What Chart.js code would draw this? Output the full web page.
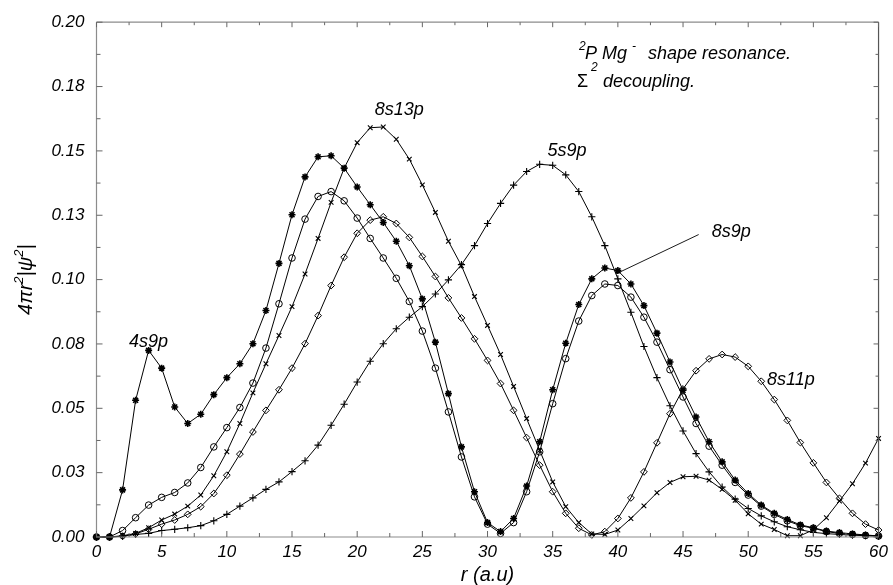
<!DOCTYPE html>
<html><head><meta charset="utf-8">
<script src="https://cdn.jsdelivr.net/npm/chart.js@4.4.1/dist/chart.umd.min.js"></script>
<style>html,body{margin:0;padding:0;background:#fff;}#wrap{width:893px;height:585px;}</style>
</head><body><div id="wrap"><canvas id="c" width="893" height="585"></canvas></div>
<script>
// ---------- data ----------
const radius = [0,1,2,3,4,5,6,7,8,9,10,11,12,13,14,15,16,17,18,19,20,21,22,23,24,25,26,27,28,29,30,
  31,32,33,34,35,36,37,38,39,40,41,42,43,44,45,46,47,48,49,50,51,52,53,54,55,56,57,58,59,60];

const s4s9p = [0,0,0.0183,0.0531,0.0725,0.0656,0.0505,0.0441,0.0477,0.0553,0.0619,0.0673,0.0751,0.088,0.1063,
  0.1252,0.1399,0.1477,0.1481,0.1433,0.136,0.1291,0.1222,0.1149,0.1054,0.0925,0.0757,0.0557,0.035,0.0176,0.0056,
  0.0021,0.0072,0.0198,0.037,0.0572,0.0753,0.0903,0.1003,0.1045,0.1035,0.0983,0.0899,0.0792,0.068,0.057,
  0.0466,0.037,0.0292,0.0221,0.0169,0.0124,0.0092,0.0068,0.0047,0.0036,0.0023,0.0017,0.0012,0.0008,0.0004];

const s8s9p = [0,0,0.0025,0.0075,0.0124,0.0154,0.0173,0.021,0.027,0.035,0.0425,0.0503,0.0598,0.0734,0.0906,
  0.1084,0.1235,0.1323,0.1342,0.1306,0.1239,0.116,0.1084,0.1005,0.0915,0.08,0.0656,0.0486,0.0311,0.0156,0.005,
  0.0014,0.0056,0.0176,0.0331,0.0518,0.0693,0.0839,0.0938,0.0983,0.0977,0.0932,0.0854,0.0757,0.065,0.0544,
  0.0441,0.0353,0.0279,0.0212,0.0163,0.012,0.0088,0.0063,0.0044,0.0034,0.0021,0.0014,0.001,0.0006,0.0004];

const s8s13p = [0,0,0.0005,0.0014,0.0036,0.0066,0.0089,0.012,0.0163,0.0238,0.0331,0.0441,0.056,0.0673,0.0783,
  0.0895,0.1022,0.116,0.13,0.1433,0.1532,0.159,0.1593,0.1545,0.1468,0.1368,0.1261,0.1149,0.1054,0.0934,0.0822,
  0.0709,0.0585,0.046,0.0337,0.0214,0.0118,0.0056,0.0012,0.001,0.0027,0.0072,0.0121,0.0172,0.0212,0.0234,
  0.0236,0.0221,0.0185,0.0143,0.009,0.005,0.0029,0.0005,0.0005,0.0028,0.0075,0.014,0.0207,0.0287,0.0383];

const s8s11p = [0,0,0.0003,0.0012,0.003,0.005,0.0066,0.0088,0.0118,0.0169,0.024,0.0322,0.0408,0.0492,0.0572,
  0.0656,0.0751,0.086,0.0977,0.1087,0.118,0.1231,0.1244,0.1218,0.1164,0.109,0.1012,0.0929,0.0851,0.077,0.0686,
  0.0596,0.0492,0.0386,0.0279,0.0176,0.0092,0.0034,0.0008,0.0021,0.0072,0.0152,0.0253,0.0366,0.0479,0.0575,
  0.0646,0.0692,0.0709,0.0699,0.0663,0.0605,0.0534,0.0453,0.0367,0.0288,0.0212,0.015,0.0092,0.005,0.0027];

const s5s9p = [0,0,0.0003,0.001,0.0014,0.0025,0.003,0.0036,0.0044,0.0063,0.0088,0.012,0.0152,0.0185,0.0214,
  0.0254,0.0296,0.0357,0.0434,0.0516,0.0602,0.0683,0.0751,0.0809,0.0854,0.0895,0.0944,0.0999,0.1058,0.1132,0.1218,
  0.1296,0.1367,0.142,0.1448,0.1444,0.1407,0.1342,0.1244,0.1132,0.1003,0.0873,0.074,0.0619,0.051,0.0412,
  0.0324,0.0253,0.0194,0.0147,0.0111,0.0082,0.0059,0.004,0.0028,0.0018,0.0013,0.001,0.0007,0.0005,0.0003];

const pointerLine = [{x:39.85,y:0.1022},{x:46.2,y:0.1175}];

const xTickValues = [0,5,10,15,20,25,30,35,40,45,50,55,60];
const yTickValues = [0,0.025,0.05,0.075,0.1,0.125,0.15,0.175,0.2];
const yTickLabels = ['0.00','0.03','0.05','0.08','0.10','0.13','0.15','0.18','0.20'];

const curveLabels = [
  {text:'4s9p',  r:2.49,  v:0.074},
  {text:'8s13p', r:21.34, v:0.164},
  {text:'5s9p',  r:34.6,  v:0.148},
  {text:'8s9p',  r:47.2,  v:0.1165},
  {text:'8s11p', r:51.45, v:0.0589}
];

// ---------- chart ----------
const FONT = '"Liberation Sans", Arial, Helvetica, sans-serif';
function pts(vals){ return radius.map((r,i)=>({x:r,y:vals[i]})); }
function series(label, vals, style, rad, pbw){
  return {label, data:pts(vals), showLine:true, borderColor:'#000', borderWidth:1, tension:0,
    pointStyle:style, pointRadius:rad, pointBorderWidth:pbw, pointBorderColor:'#000',
    pointBackgroundColor:'rgba(0,0,0,0)', clip:false};
}

function richWidth(ctx, parts){
  let w=0;
  for(const p of parts){ ctx.font = p.font; w += ctx.measureText(p.t).width + (p.gap||0); }
  return w;
}
function drawRich(ctx, parts, x, y){
  for(const p of parts){
    ctx.font = p.font;
    ctx.fillText(p.t, x, y - (p.rise||0));
    x += ctx.measureText(p.t).width + (p.gap||0);
  }
}

const decor = {
  id:'decor',
  afterDraw(chart){
    const ctx = chart.ctx, a = chart.chartArea, xs = chart.scales.x, ys = chart.scales.y;
    ctx.save();
    // frame
    ctx.lineWidth = 1.2;
    ctx.strokeStyle = '#8c8c8c';
    ctx.beginPath();
    ctx.moveTo(a.left, a.top); ctx.lineTo(a.left, a.bottom); ctx.lineTo(a.right, a.bottom);
    ctx.moveTo(a.left, a.top); ctx.lineTo(a.right, a.top);
    ctx.stroke();
    ctx.strokeStyle = '#555';
    ctx.beginPath(); ctx.moveTo(a.right, a.top); ctx.lineTo(a.right, a.bottom); ctx.stroke();
    // ticks
    ctx.lineWidth = 1;
    ctx.strokeStyle = '#666';
    ctx.beginPath();
    for(let k=0;k<=24;k++){
      const v = k*2.5, px = xs.getPixelForValue(v), len = (k%2===0)?6:4;
      ctx.moveTo(px, a.bottom); ctx.lineTo(px, a.bottom-len);
      ctx.moveTo(px, a.top); ctx.lineTo(px, a.top+len-1);
    }
    for(let k=0;k<=16;k++){
      const v = k*0.0125, py = ys.getPixelForValue(v), len = (k%2===0)?6:4;
      ctx.moveTo(a.left, py); ctx.lineTo(a.left+len, py);
      ctx.moveTo(a.right, py); ctx.lineTo(a.right-len+1, py);
    }
    ctx.stroke();

    ctx.fillStyle = '#000';
    ctx.textBaseline = 'alphabetic';
    ctx.textAlign = 'left';
    const it18 = 'italic 18px '+FONT, it12 = 'italic 12px '+FONT;
    // curve labels
    ctx.font = it18;
    for(const L of curveLabels){
      ctx.fillText(L.text, xs.getPixelForValue(L.r), ys.getPixelForValue(L.v));
    }
    // note text
    drawRich(ctx, [{t:'2', font:it12, rise:9}], 579, 59);
    drawRich(ctx, [{t:'P Mg', font:it18}], 585, 59);
    drawRich(ctx, [{t:'-', font:it12, rise:9}], 632, 59);
    drawRich(ctx, [{t:'shape resonance.', font:it18}], 648, 59);
    drawRich(ctx, [{t:'\u03A3', font:'18px '+FONT}], 577, 87);
    drawRich(ctx, [{t:'2', font:it12, rise:16}], 591, 87);
    drawRich(ctx, [{t:'decoupling.', font:it18}], 603, 87);

    // x title
    const it20 = 'italic 20px '+FONT, it13 = 'italic 13px '+FONT;
    ctx.font = it20; ctx.textAlign = 'center';
    ctx.fillText('r (a.u)', (a.left+a.right)/2, 581);
    // y title rotated
    ctx.textAlign = 'left';
    const yparts = [{t:'4\u03C0r', font:it20},{t:'2', font:it13, rise:9},{t:'|\u03C8', font:it20},
                    {t:'2', font:it13, rise:9},{t:'|', font:it20}];
    const w = richWidth(ctx, yparts);
    ctx.translate(32, (a.top+a.bottom)/2);
    ctx.rotate(-Math.PI/2);
    drawRich(ctx, yparts, -w/2, 0);
    ctx.restore();
  }
};

new Chart(document.getElementById('c'), {
  type:'scatter',
  data:{datasets:[
    series('4s9p', s4s9p, 'star', 3.5, 1.6),
    series('8s9p', s8s9p, 'circle', 3.3, 1),
    series('8s13p', s8s13p, 'crossRot', 3.3, 1.1),
    series('8s11p', s8s11p, 'rectRot', 3.4, 1),
    series('5s9p', s5s9p, 'cross', 3.6, 1.1),
    {label:'pointer', data:pointerLine, showLine:true, borderColor:'#000', borderWidth:0.9, pointRadius:0, clip:false}
  ]},
  options:{
    responsive:false, animation:false, devicePixelRatio:1,
    layout:{padding:{top:21, right:13, left:0, bottom:0}},
    plugins:{legend:{display:false}, tooltip:{enabled:false}},
    scales:{
      x:{type:'linear', min:0, max:60,
        afterBuildTicks(s){ s.ticks = xTickValues.map(v=>({value:v})); },
        ticks:{font:{family:FONT, size:17, style:'italic'}, color:'#000', padding:5, maxRotation:0, autoSkip:false},
        grid:{display:false, drawTicks:false}, border:{display:false},
        afterFit(s){ s.height = 48; }},
      y:{type:'linear', min:0, max:0.2,
        afterBuildTicks(s){ s.ticks = yTickValues.map(v=>({value:v})); },
        ticks:{font:{family:FONT, size:17, style:'italic'}, color:'#000', padding:12, autoSkip:false,
          callback:(v,i)=>yTickLabels[i]},
        grid:{display:false, drawTicks:false}, border:{display:false},
        afterFit(s){ s.width = 96.5; }}
    }
  },
  plugins:[decor]
});
</script></body></html>
